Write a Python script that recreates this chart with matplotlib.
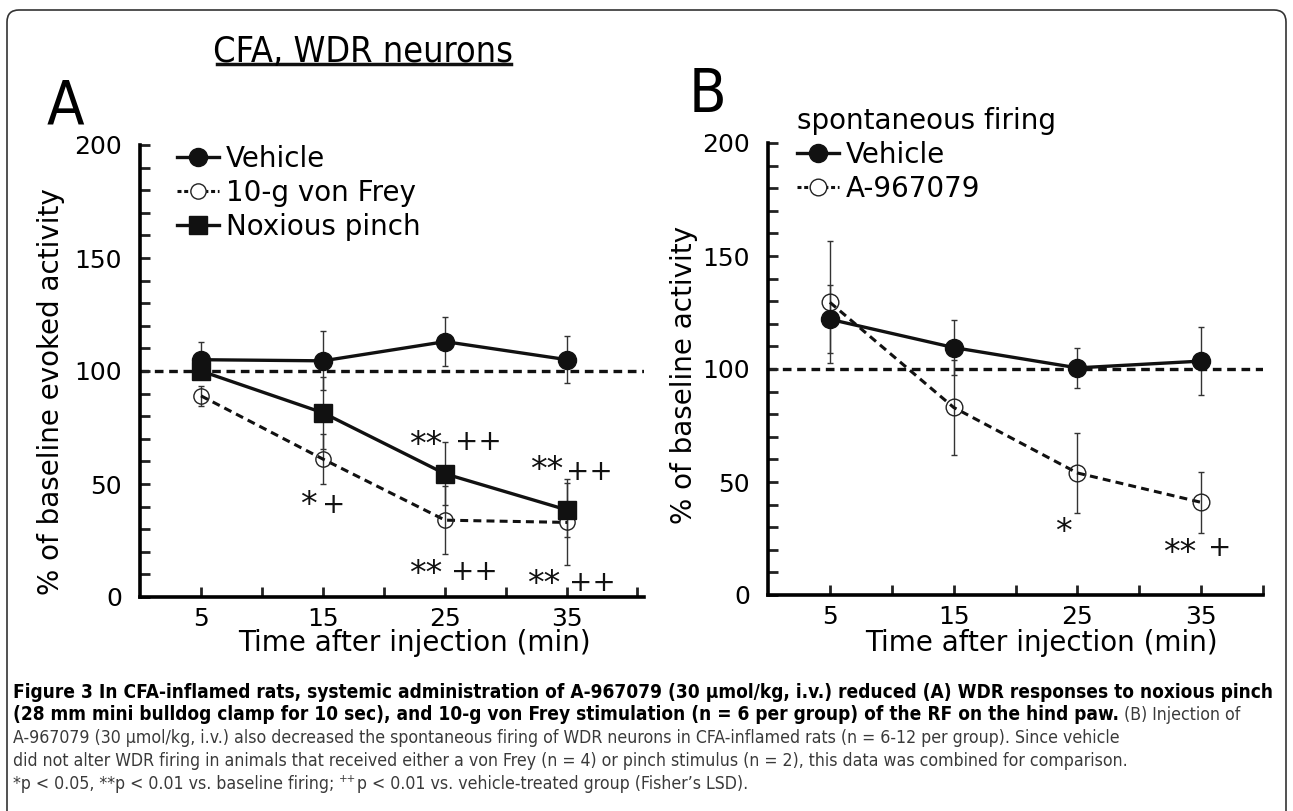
import matplotlib
matplotlib.use("Agg")
import matplotlib.pyplot as plt
from matplotlib.lines import Line2D
from matplotlib.patches import FancyBboxPatch
from matplotlib.transforms import IdentityTransform
from matplotlib import font_manager

# data
time = [5, 15, 25, 35]

# panel A: % of baseline evoked activity
veh_a = [105, 104.5, 113, 105]
veh_a_err = [8, 13, 11, 10.5]
vf_a = [89, 61, 34, 33]
vf_a_err = [4.5, 11, 15, 19]
pinch_a = [100, 81.5, 54.5, 38.5]
pinch_a_err = [3, 16, 14, 12]

# panel B: % of baseline spontaneous activity
veh_b = [122, 109.5, 100.5, 103.5]
veh_b_err = [15, 12, 9, 15]
drug_b = [129.5, 83, 54, 41]
drug_b_err = [27, 21, 17.5, 13.5]

# significance marks (x, y, text)
marks_a = [(13.8, 40.5, '*'), (15.9, 40.7, '+'),
           (23.4, 67, '**'), (27.7, 68.6, '++'),
           (33.3, 56, '**'), (36.8, 55.3, '++'),
           (23.4, 10, '**'), (27.4, 11, '++'),
           (33.1, 5.5, '**'), (37.1, 6.2, '++')]
marks_b = [(23.9, 27.5, '*'), (33.3, 18.5, '**'), (36.5, 20.8, '+')]

W, H = 1293, 811

# look for a condensed face for title / caption, else a narrow-ish one
fonts = font_manager.fontManager.ttflist
cond = [f for f in fonts if 'Narrow' in f.name or 'Condensed' in f.name
        or f.stretch in ('condensed', 'semi-condensed', 'extra-condensed')]
if cond:
    NARROW = dict(family=cond[0].name, fontstretch=cond[0].stretch)
else:
    NARROW = dict(family='Roboto')

plt.rcParams['font.family'] = 'DejaVu Sans'
fig = plt.figure(figsize=(W / 100, H / 100), dpi=100)

DASH = (0, (2.6, 1.7))
DASH_LEG = (0, (1.3, 0.9))


def px(x, y):
    return x / W, 1 - y / H


def style_axis(ax, xmax, minor_x):
    ax.set_ylim(0, 200)
    ax.set_xlim(0, xmax)
    ax.spines['top'].set_visible(False)
    ax.spines['right'].set_visible(False)
    ax.spines['left'].set_linewidth(2.6)
    ax.spines['bottom'].set_linewidth(2.6)
    ax.set_yticks([0, 50, 100, 150, 200])
    ax.set_yticks(range(0, 201, 10), minor=True)
    ax.set_xticks(time)
    ax.set_xticks(minor_x, minor=True)
    ax.tick_params(which='both', direction='in', length=7, width=2,
                   color='#222222', labelsize=18)
    ax.tick_params(axis='y', which='major', pad=13)
    ax.tick_params(axis='x', which='major', pad=7)
    ax.axhline(100, color='#111111', lw=2.4, linestyle=DASH, zorder=1)


# ---------------- panel A ----------------
axA = fig.add_axes([140 / W, 1 - 597 / H, (644 - 140) / W, 452 / H])
style_axis(axA, 41.3, [10, 20, 30, 40.7])

for y, e in [(veh_a, veh_a_err), (vf_a, vf_a_err), (pinch_a, pinch_a_err)]:
    axA.errorbar(time, y, yerr=e, fmt='none', ecolor='#333333',
                 elinewidth=1, capsize=2.5, capthick=1, zorder=2)
axA.plot(time, vf_a, color='#111111', lw=2.2, linestyle=DASH, marker='o',
         ms=11, mfc='none', mec='#222222', mew=1, zorder=3)
axA.plot(time, pinch_a, color='#111111', lw=2.4, marker='s', ms=13,
         mfc='#111111', mec='#111111', zorder=4)
axA.plot(time, veh_a, color='#111111', lw=2.4, marker='o', ms=13,
         mfc='#111111', mec='#111111', zorder=5)

for x, y, s in marks_a:
    axA.text(x, y, s, fontsize=24 if '*' in s else 20, ha='center',
             va='center', color='#111111')

hA = [Line2D([], [], color='#111111', lw=2.4, marker='o', ms=13),
      Line2D([], [], color='#111111', lw=2.2, linestyle=DASH_LEG, marker='o',
             ms=11, mfc='white', mec='#222222', mew=1),
      Line2D([], [], color='#111111', lw=2.4, marker='s', ms=13)]
axA.legend(hA, ['Vehicle', '10-g von Frey', 'Noxious pinch'],
           loc='upper left', bbox_to_anchor=px(177, 145),
           bbox_transform=fig.transFigure, frameon=False, borderpad=0,
           borderaxespad=0, handlelength=1.5, handletextpad=0.25,
           labelspacing=0.21, fontsize=20)

# ---------------- panel B ----------------
axB = fig.add_axes([768 / W, 1 - 595 / H, 495 / W, 452 / H])
style_axis(axB, 40, [10, 20, 30, 40])

for y, e in [(veh_b, veh_b_err), (drug_b, drug_b_err)]:
    axB.errorbar(time, y, yerr=e, fmt='none', ecolor='#333333',
                 elinewidth=1, capsize=2.5, capthick=1, zorder=2)
axB.plot(time, drug_b, color='#111111', lw=2.2, linestyle=DASH, marker='o',
         ms=12, mfc='none', mec='#222222', mew=1, zorder=3)
axB.plot(time, veh_b, color='#111111', lw=2.4, marker='o', ms=13,
         mfc='#111111', mec='#111111', zorder=5)

for x, y, s in marks_b:
    axB.text(x, y, s, fontsize=24 if '*' in s else 20, ha='center',
             va='center', color='#111111')

hB = [Line2D([], [], color='#111111', lw=2.4, marker='o', ms=13),
      Line2D([], [], color='#111111', lw=2.2, linestyle=DASH_LEG, marker='o',
             ms=12, mfc='white', mec='#222222', mew=1)]
axB.legend(hB, ['Vehicle', 'A-967079'], title='spontaneous firing',
           loc='upper left', bbox_to_anchor=px(797, 107),
           bbox_transform=fig.transFigure, frameon=False, borderpad=0,
           borderaxespad=0, handlelength=1.5, handletextpad=0.25,
           labelspacing=0.21, fontsize=20, title_fontsize=20,
           alignment='left')

# axis labels
fig.text(*px(414, 643), 'Time after injection (min)', fontsize=20,
         ha='center', va='center')
fig.text(*px(1041, 643), 'Time after injection (min)', fontsize=20,
         ha='center', va='center')
fig.text(*px(51, 392), '% of baseline evoked activity', fontsize=20,
         rotation=90, ha='center', va='center')
fig.text(*px(684, 375), '% of baseline activity', fontsize=20,
         rotation=90, ha='center', va='center')

renderer = fig.canvas.get_renderer()

# title and panel letters
title = fig.text(*px(363, 62), 'CFA, WDR neurons', fontsize=30,
                 ha='center', va='baseline', **NARROW)
tw = title.get_window_extent(renderer).width
title.set_fontsize(min(30, 30 * 300 / tw))
fig.add_artist(Line2D([217 / W, 511 / W], [1 - 64 / H, 1 - 64 / H],
                      color='#111111', lw=2.5))
fig.text(*px(47, 123), 'A', fontsize=44, va='baseline', **NARROW)
fig.text(*px(689, 112), 'B', fontsize=44, va='baseline', **NARROW)

# frame round the figure
fig.patches.append(FancyBboxPatch((7, -30), 1279, H - 10 + 30,
                                  boxstyle='round,pad=0,rounding_size=12',
                                  transform=IdentityTransform(), fill=False,
                                  ec='#333333', lw=1.2))

# caption
bold_lines = ['Figure 3 In CFA-inflamed rats, systemic administration of A-967079 '
              '(30 µmol/kg, i.v.) reduced (A) WDR responses to noxious pinch',
              '(28 mm mini bulldog clamp for 10 sec), and 10-g von Frey '
              'stimulation (n = 6 per group) of the RF on the hind paw.']
plain_lines = ['A-967079 (30 µmol/kg, i.v.) also decreased the spontaneous firing '
               'of WDR neurons in CFA-inflamed rats (n = 6-12 per group). Since vehicle',
               'did not alter WDR firing in animals that received either a von Frey '
               '(n = 4) or pinch stimulus (n = 2), this data was combined for comparison.']

x0 = 13
cap_y = [692, 715, 738, 761, 784]
GREY = '#3a3a3a'

t1 = fig.text(*px(x0, cap_y[0]), bold_lines[0], fontsize=14, weight='bold',
              va='center', **NARROW)
w1 = t1.get_window_extent(renderer).width
fs_bold = 14 * (1281 - x0) / w1
t1.set_fontsize(fs_bold)
t2 = fig.text(*px(x0, cap_y[1]), bold_lines[1], fontsize=fs_bold,
              weight='bold', va='center', **NARROW)

t3 = fig.text(*px(x0, cap_y[2]), plain_lines[0], fontsize=14, va='center',
              color=GREY, **NARROW)
w3 = t3.get_window_extent(renderer).width
fs_plain = 14 * (1130 - x0) / w3
t3.set_fontsize(fs_plain)
fig.text(*px(x0, cap_y[3]), plain_lines[1], fontsize=fs_plain, va='center',
         color=GREY, **NARROW)

fig.canvas.draw()
b2 = t2.get_window_extent(renderer)
fig.text(b2.x1, b2.y0 + b2.height / 2, ' (B) Injection of', fontsize=fs_plain,
         color=GREY, va='center', transform=None, **NARROW)

t5 = fig.text(*px(x0, cap_y[4]), '*p < 0.05, **p < 0.01 vs. baseline firing; ',
              fontsize=fs_plain, va='center', color=GREY, **NARROW)
fig.canvas.draw()
b5 = t5.get_window_extent(renderer)
sup = fig.text(b5.x1, b5.y0 + b5.height * 0.75, '++', fontsize=fs_plain * 0.65,
               va='center', color=GREY, transform=None, **NARROW)
fig.canvas.draw()
bs = sup.get_window_extent(renderer)
fig.text(bs.x1, b5.y0 + b5.height / 2,
         'p < 0.01 vs. vehicle-treated group (Fisher\u2019s LSD).',
         fontsize=fs_plain, va='center', color=GREY, transform=None, **NARROW)

fig.savefig('out.png', dpi=100)
